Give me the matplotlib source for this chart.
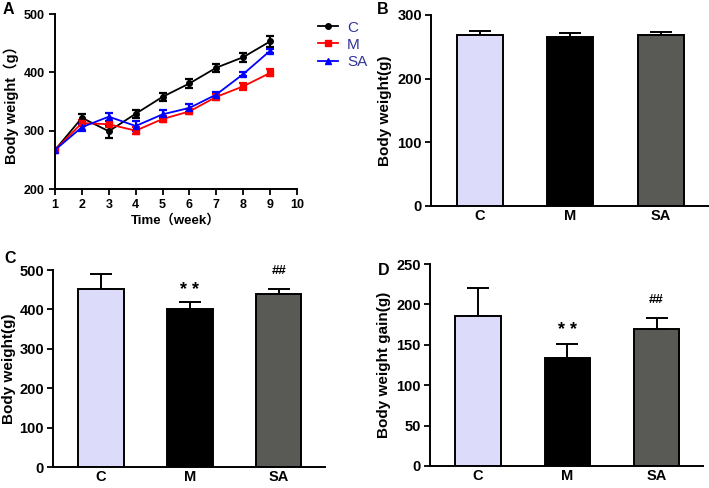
import numpy as np
import matplotlib
matplotlib.use("Agg")
import matplotlib.pyplot as plt
from matplotlib.lines import Line2D

plt.rcParams['font.family'] = ['Liberation Sans', 'Noto Sans CJK SC']
plt.rcParams['font.weight'] = 'bold'
plt.rcParams['axes.linewidth'] = 1.4

# panel A: weekly body weight
weeks = [1, 2, 3, 4, 5, 6, 7, 8, 9]
c_mean = [267, 322, 299, 329, 358, 381, 408, 426, 453]
c_err = [3, 7, 11, 7, 7, 7, 7, 8, 9]
m_mean = [267, 313, 311, 300, 320, 333, 358, 376, 399]
m_err = [3, 5, 5, 6, 5, 5, 5, 6, 6]
sa_mean = [267, 306, 324, 308, 328, 339, 362, 397, 437]
sa_err = [3, 6, 7, 8, 7, 7, 5, 3, 3]

# panels B, C, D
groups = ['C', 'M', 'SA']
start_w = [268, 266, 268]
start_e = [7, 5, 6]
final_w = [453, 400, 438]
final_e = [37, 20, 15]
gain_w = [186, 134, 169]
gain_e = [34, 17, 14]
bar_colors = ['#dcdcfa', '#000000', '#595a55']

fig = plt.figure(figsize=(7.09, 4.88), dpi=100)

def style(ax, size):
    for s in ['top', 'right']:
        ax.spines[s].set_visible(False)
    ax.tick_params(direction='out', length=4, width=1.3, labelsize=size)
    for t in ax.get_xticklabels() + ax.get_yticklabels():
        t.set_fontweight('bold')

# A
axA = fig.add_axes([0.0776, 0.6127, 0.3413, 0.3586])
series = [(c_mean, c_err, 'black', 'o', 'C'),
          (m_mean, m_err, 'red', 's', 'M'),
          (sa_mean, sa_err, 'blue', '^', 'SA')]
handles = []
for mean, err, col, mk, lab in series:
    axA.errorbar(weeks, mean, yerr=err, color=col, marker=mk, ms=4, lw=1.3,
                 capsize=3, capthick=1.6, elinewidth=1.6)
    handles.append(Line2D([], [], color=col, marker=mk, ms=4, lw=1.3, label=lab))
axA.set_xlim(1, 10)
axA.set_ylim(200, 500)
axA.set_xticks(range(1, 11))
axA.set_yticks([200, 300, 400, 500])
axA.set_xlabel('Time（week）', fontsize=9.5, fontweight='bold', labelpad=2)
axA.set_ylabel('Body weight（g）', fontsize=10.5, fontweight='bold', labelpad=3)
style(axA, 9)
leg = axA.legend(handles=handles, loc='upper left', bbox_to_anchor=(1.03, 1.04),
                 frameon=False, fontsize=11, handlelength=1.3, handletextpad=0.6,
                 labelspacing=0.2)
for t in leg.get_texts():
    t.set_color('#333399')
    t.set_fontweight('normal')

def bars(rect, vals, errs, ymax, step, ylabel, marks=None, lpad=4):
    ax = fig.add_axes(rect)
    x = np.arange(len(groups))
    ax.bar(x, vals, width=0.51, color=bar_colors, edgecolor='black', linewidth=1.4, zorder=2)
    ax.errorbar(x, vals, yerr=[np.zeros(len(vals)), errs], fmt='none', ecolor='black',
                elinewidth=1.4, capsize=8, capthick=1.4, zorder=1)
    ax.set_xlim(-0.54, 2.52)
    ax.set_ylim(0, ymax)
    ax.set_yticks(np.arange(0, ymax + 1, step))
    ax.set_xticks(x)
    ax.set_xticklabels(groups)
    ax.set_ylabel(ylabel, fontsize=11, fontweight='bold', labelpad=lpad)
    style(ax, 10.5)
    ax.tick_params(axis='x', length=0, pad=2.5)
    ax.tick_params(axis='y', pad=2.5)
    if marks:
        for i, txt, yv, fs in marks:
            ax.text(i, yv, txt, ha='center', va='center', fontsize=fs, fontweight='bold')
    return ax

axB = bars([0.6079, 0.5779, 0.3907, 0.3914], start_w, start_e, 300, 100, 'Body weight(g)')
axC = bars([0.0748, 0.0430, 0.3836, 0.4037], final_w, final_e, 500, 100, 'Body weight(g)',
           marks=[(1, '* *', 448, 13), (2, '##', 497, 9.5)], lpad=2)
axD = bars([0.6065, 0.0451, 0.3850, 0.4139], gain_w, gain_e, 250, 50, 'Body weight gain(g)',
           marks=[(1, '* *', 168, 13), (2, '##', 206, 9.5)])

for lab, xx, yy in [('A', 0.004, 0.995), ('B', 0.532, 0.995), ('C', 0.006, 0.485), ('D', 0.533, 0.462)]:
    fig.text(xx, yy, lab, fontsize=11.5, fontweight='bold', ha='left', va='top')

fig.savefig('out.png', dpi=100)
